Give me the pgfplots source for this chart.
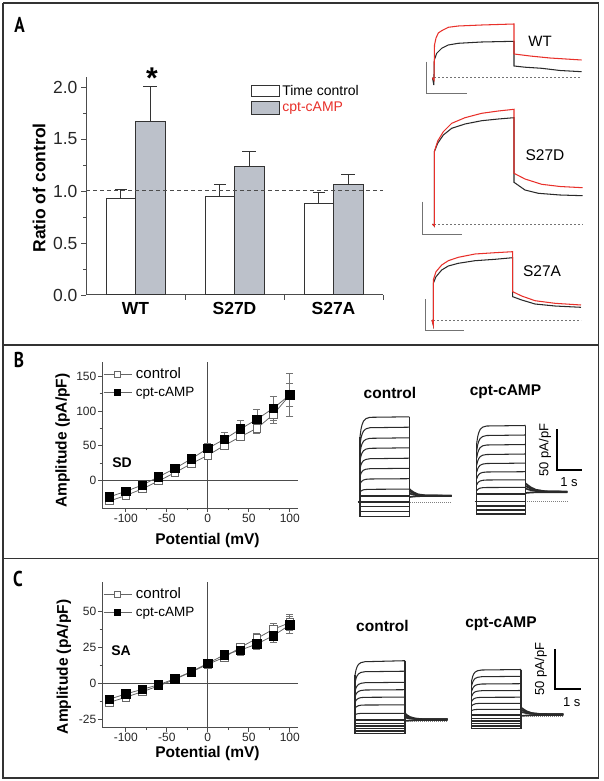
\documentclass[border=0pt]{standalone}
\usepackage{graphicx}
\usepackage{pgfplots}
\pgfplotsset{compat=1.18}
\usepackage{pgfplotstable}
\usepackage{fontspec}
\setmainfont{Liberation Sans}
\newfontfamily\letterfont{PT Sans}
\definecolor{frame}{HTML}{333333}
\definecolor{barfill}{HTML}{BCC1CA}
\definecolor{tr}{HTML}{2A2A2A}
\definecolor{trred}{HTML}{E8302A}
\definecolor{ln}{HTML}{666666}
\newcommand{\fs}[1]{\fontsize{#1}{#1}\selectfont}

% ---------- current families (pixel coordinates) ----------
\pgfplotstableread{
x      t1    t2    t3    t4    t5    t6    t7    t8    t9  t10 t11   t12   t13
360    436.8 444.8 453.0 460.7 468.7 476.4 484.3 492.2 496 502 506.7 511.7 516.7
361    429.2 438.1 447.2 455.8 464.8 473.4 482.2 491.1 496 502 506.7 511.7 516.7
362    424.9 434.4 444.0 453.1 462.6 471.7 481.1 490.4 496 502 506.7 511.7 516.7
363.5  421.1 431.0 441.2 450.7 460.6 470.2 480.0 489.8 496 502 506.7 511.7 516.7
366    418.6 428.8 439.3 449.1 459.4 469.2 479.3 489.5 496 502 506.7 511.7 516.7
370    417.3 427.7 438.3 448.3 458.7 468.7 479.0 489.3 496 502 506.7 511.7 516.7
409.3  416.8 427.2 437.8 447.8 458.2 468.3 478.7 489.1 496 502 506.7 511.7 516.7
}\BctlTab
\pgfplotstableread{
x     a     b     c     d
409.3 489.0 491.0 493.5 497.0
411   490.5 492.0 494.0 496.8
414   492.5 493.5 494.7 496.5
418   494.3 494.8 495.3 496.2
425   495.4 495.5 495.6 496.0
451.7 495.7 495.7 495.7 496.0
}\BctlTail
\pgfplotstableread{
x      t1    t2    t3    t4    t5    t6    t7    t8    t9  t10   t11 t12 t13
476.7  443.4 450.7 458.0 465.3 472.2 478.8 485.0 490.7 494 501.5 506 510 514
477.7  436.6 444.7 452.9 461.1 468.8 476.1 483.0 489.5 494 501.5 506 510 514
478.7  432.8 441.4 450.1 458.7 466.9 474.7 481.9 488.8 494 501.5 506 510 514
480.2  429.4 438.5 447.5 456.6 465.2 473.3 481.0 488.1 494 501.5 506 510 514
482.7  427.1 436.5 445.8 455.2 464.1 472.4 480.3 487.7 494 501.5 506 510 514
486.7  426.0 435.5 445.0 454.5 463.5 472.0 480.0 487.5 494 501.5 506 510 514
525.7  425.5 435.0 444.5 454.0 463.1 471.7 479.8 487.4 494 501.5 506 510 514
}\BcptTab
\pgfplotstableread{
x     a     b     c     d
525.7 483.5 486.0 488.5 493.0
527.5 485.0 487.0 489.2 492.8
531   487.5 488.7 490.2 492.5
536   489.8 490.3 491.0 492.3
545   491.3 491.4 491.6 492.2
567.3 491.7 491.7 491.7 492.2
}\BcptTail
\pgfplotstableread{
x      t1    t2    t3    t4    t5    t6    t7    t8  t9    t10 t11   t12 t13
355    675.1 682.8 691.3 696.9 702.5 708.5 714.8 720 723.3 726 728.3 731 733.3
356    669.9 678.5 687.9 694.2 700.5 707.1 714.2 720 723.3 726 728.3 731 733.3
357    666.9 676.0 686.1 692.7 699.3 706.4 713.9 720 723.3 726 728.3 731 733.3
358.5  664.3 673.9 684.4 691.4 698.3 705.7 713.6 720 723.3 726 728.3 731 733.3
361    662.6 672.4 683.3 690.5 697.6 705.2 713.4 720 723.3 726 728.3 731 733.3
365    661.7 671.7 682.7 690.0 697.3 705.0 713.3 720 723.3 726 728.3 731 733.3
405    660.7 671.2 682.3 689.7 697.1 704.9 713.3 720 723.3 726 728.3 731 733.3
}\CctlTab
\pgfplotstableread{
x     a     b     c     d
405   713.5 715.5 717.5 721.0
406.8 715.0 716.3 717.9 720.8
410   717.0 717.6 718.5 720.5
415   718.5 718.7 719.0 720.2
423   719.2 719.2 719.3 720.0
447.7 719.3 719.3 719.3 720.0
}\CctlTail
\pgfplotstableread{
x      t1    t2    t3    t4    t5    t6    t7    t8  t9    t10 t11   t12 t13
471.7  680.4 685.5 691.1 696.3 701.4 706.0 710.6 715 718.3 721 723.3 726 728.3
472.7  676.3 682.1 688.3 694.1 699.8 704.9 710.1 715 718.3 721 723.3 726 728.3
473.7  674.0 680.1 686.8 692.9 698.9 704.4 709.8 715 718.3 721 723.3 726 728.3
475.2  672.0 678.4 685.4 691.8 698.1 703.8 709.6 715 718.3 721 723.3 726 728.3
477.7  670.7 677.3 684.5 691.1 697.6 703.5 709.4 715 718.3 721 723.3 726 728.3
481.7  670.0 676.7 684.0 690.7 697.3 703.3 709.3 715 718.3 721 723.3 726 728.3
521    669.5 676.3 683.7 690.5 697.2 703.3 709.3 715 718.3 721 723.3 726 728.3
}\CcptTab
\pgfplotstableread{
x     a     b     c     d
521   707.5 709.8 712.0 716.0
523   709.0 710.7 712.4 715.8
526.5 711.2 712.0 713.1 715.5
531.5 713.0 713.4 713.8 715.2
540   714.0 714.1 714.2 715.0
563.3 714.3 714.3 714.3 715.0
}\CcptTail

\pgfplotsset{
  ivaxis/.style={
    scale only axis, anchor=south west,
    width=196pt, xmin=-129, xmax=110,
    axis x line*=bottom, axis y line*=left,
    xtick={-100,-50,0,50,100}, minor x tick num=1, minor y tick num=1,
    tick align=outside, major tick length=4pt, minor tick length=2.5pt,
    tick style={color=black!70, line width=0.7pt},
    axis line style={black!70, line width=0.8pt},
    tick label style={font=\fs{12}, color=black!85, inner sep=1.5pt},
    /pgf/number format/assume math mode=true,
    label style={font=\fs{15.5}\bfseries, inner sep=0pt},
    legend cell align=left,
    legend style={draw=none, fill=none, inner sep=0pt, nodes={inner sep=1pt}, row sep=5pt,
      /tikz/every odd column/.append style={column sep=3pt}},
    legend image code/.code={\draw[mark repeat=2,mark phase=2,#1] plot coordinates {(0pt,0pt)(14pt,0pt)(28pt,0pt)};},
    every legend image post/.style={mark size=3pt},
  },
  ctl/.style={color=ln, line width=0.8pt, mark=square*, mark size=3.8pt,
    mark options={fill=white, draw=black!60, line width=0.8pt},
    error bars/.cd, y dir=both, y explicit,
    error bar style={color=black!55, line width=0.7pt},
    error mark options={rotate=90, mark size=3.5pt, line width=0.7pt, color=black!55}},
  cpt/.style={color=ln, line width=0.8pt, mark=square*, mark size=4.2pt,
    mark options={fill=black, draw=black, line width=0.6pt},
    error bars/.cd, y dir=both, y explicit,
    error bar style={color=black!55, line width=0.7pt},
    error mark options={rotate=90, mark size=3.5pt, line width=0.7pt, color=black!55}},
  trace/.style={color=tr, line width=1.05pt},
  tail/.style={color=tr, line width=1.7pt},
}

\begin{document}
\begin{tikzpicture}
\useasboundingbox (0,0) rectangle (604pt,781pt);

% ================= Panel A bar chart =================
\begin{axis}[
  at={(86pt,486pt)}, anchor=south west, scale only axis,
  width=297pt, height=218.4pt,
  xmin=-0.5, xmax=2.5, ymin=0, ymax=2.1,
  axis x line*=bottom, axis y line*=left,
  ybar=0pt, bar width=29.5pt,
  xtick={0.5,1.5,2.5}, xticklabels={},
  extra x ticks={0,1,2}, extra x tick labels={WT,S27D,S27A},
  extra x tick style={major tick length=0pt, tick label style={font=\fs{17.5}\bfseries, yshift=-4pt}},
  ytick={0,0.5,1,1.5,2}, minor ytick={0.25,0.75,1.25,1.75},
  yticklabel style={/pgf/number format/fixed, /pgf/number format/fixed zerofill, /pgf/number format/precision=1, font=\fs{17.5}, color=black!85},
  /pgf/number format/assume math mode=true,
  tick align=outside, major tick length=5pt, minor tick length=3pt,
  tick style={color=black!70, line width=0.8pt},
  axis line style={black!70, line width=1pt},
  ylabel={Ratio of control},
  ylabel style={font=\fs{17.5}\bfseries, at={(axis description cs:-0.158,0.49)}, anchor=center},
  legend style={at={(0.556,0.97)}, anchor=north west, draw=none, fill=none, font=\fs{14}, inner sep=0pt, row sep=1pt},
  legend cell align=left,
  clip=false,
]
\addplot[fill=white, draw=frame, line width=1pt,
  legend image code/.code={\draw[fill=white, draw=frame, line width=1pt] (0pt,-5.5pt) rectangle (28pt,5.5pt);},
  error bars/.cd, y dir=plus, y explicit,
  error bar style={color=frame, line width=1pt},
  error mark options={rotate=90, mark size=6pt, line width=1pt, color=frame}]
  coordinates {(0,0.925) +- (0,0.085) (1,0.945) +- (0,0.115) (2,0.88) +- (0,0.11)};
\addlegendentry{Time control}
\addplot[fill=barfill, draw=frame, line width=1pt,
  legend image code/.code={\draw[fill=barfill, draw=frame, line width=1pt] (0pt,-6.5pt) rectangle (28pt,6.5pt);},
  error bars/.cd, y dir=plus, y explicit,
  error bar style={color=frame, line width=1pt},
  error mark options={rotate=90, mark size=7pt, line width=1pt, color=frame}]
  coordinates {(0,1.665) +- (0,0.335) (1,1.24) +- (0,0.14) (2,1.06) +- (0,0.10)};
\addlegendentry{\textcolor{trred}{cpt-cAMP}}
\addplot[sharp plot, forget plot, color=black!70, line width=1pt, dash pattern=on 4pt off 3pt] coordinates {(-0.5,1) (2.5,1)};
\end{axis}

% ================= Panel B IV =================
\begin{axis}[ivaxis,
  at={(102pt,273pt)}, height=146.3pt, ymin=-40, ymax=171,
  ytick={0,50,100,150},
  xlabel={Potential (mV)}, ylabel={Amplitude (pA/pF)},
  xlabel style={at={(axis description cs:0.538,-0.222)}, anchor=center},
  ylabel style={at={(axis description cs:-0.2015,0.46)}, anchor=center},
  legend style={at={(0.005,0.965)}, anchor=north west},
]
\addplot[forget plot, color=black!70, line width=0.8pt] coordinates {(0,-40) (0,171)};
\addplot[forget plot, color=black!70, line width=0.8pt] coordinates {(-129,0) (110,0)};
\addplot[ctl] coordinates {(-120,-30) +- (0,5) (-100,-22) +- (0,3) (-80,-12.5) +- (0,3) (-60,-1) +- (0,3) (-40,11) +- (0,3) (-20,24) +- (0,4) (0,36) +- (0,5) (20,50) +- (0,6) (40,63) +- (0,6) (60,75) +- (0,8) (80,95) +- (0,13) (100,123) +- (0,17)};
\addlegendentry{\fs{15}control}
\addplot[cpt] coordinates {(-120,-24) +- (0,4) (-100,-16) +- (0,3) (-80,-7) +- (0,3) (-60,5) +- (0,3) (-40,17) +- (0,3) (-20,31) +- (0,4) (0,46) +- (0,7) (20,59) +- (0,10) (40,74) +- (0,12) (60,88) +- (0,14) (80,104) +- (0,17) (100,123) +- (0,31)};
\addlegendentry{\fs{13.5}cpt-cAMP}
\end{axis}

% ================= Panel C IV =================
\begin{axis}[ivaxis,
  at={(102pt,53.3pt)}, height=146pt, ymin=-30.8, ymax=70.5,
  ytick={-25,0,25,50},
  xlabel={Potential (mV)}, ylabel={Amplitude (pA/pF)},
  xlabel style={at={(axis description cs:0.538,-0.18)}, anchor=center},
  ylabel style={at={(axis description cs:-0.194,0.416)}, anchor=center},
  legend style={at={(0.005,0.965)}, anchor=north west},
]
\addplot[forget plot, color=black!70, line width=0.8pt] coordinates {(0,-30.8) (0,70.5)};
\addplot[forget plot, color=black!70, line width=0.8pt] coordinates {(-129,0) (110,0)};
\addplot[ctl] coordinates {(-120,-13.2) +- (0,2) (-100,-9.7) +- (0,2) (-80,-5.8) +- (0,2) (-60,-1.9) +- (0,1.5) (-40,2.8) +- (0,1.5) (-20,7.9) +- (0,1.5) (0,13.2) +- (0,2) (20,18) +- (0,2.5) (40,25) +- (0,3) (60,31.2) +- (0,3.5) (80,37.5) +- (0,4) (100,42.1) +- (0,5.5)};
\addlegendentry{\fs{15}control}
\addplot[cpt] coordinates {(-120,-11) +- (0,2) (-100,-7.4) +- (0,2) (-80,-4.2) +- (0,1.5) (-60,-1) +- (0,1.5) (-40,3.2) +- (0,1.5) (-20,8.1) +- (0,1.5) (0,13.9) +- (0,2) (20,19.7) +- (0,2.5) (40,23.1) +- (0,3.5) (60,27.3) +- (0,4) (80,33.1) +- (0,5) (100,40.5) +- (0,6)};
\addlegendentry{\fs{13.5}cpt-cAMP}
\end{axis}

% ================= overlay: traces, frame, labels =================
\begin{axis}[at={(0pt,0pt)}, anchor=south west, scale only axis,
  width=604pt, height=781pt, xmin=0, xmax=604, ymin=0, ymax=781,
  y dir=reverse, hide axis, clip=false, no markers]
% frame and separators
\addplot[frame, line width=1.6pt] coordinates {(3,3) (598.5,3) (598.5,778) (3,778) (3,3)};
\addplot[frame, line width=1.6pt] coordinates {(3,345) (598.5,345)};
\addplot[frame, line width=1.6pt] coordinates {(3,558.3) (598.5,558.3)};

% ---- panel A traces ----
% WT
\addplot[black!55, line width=0.7pt, dash pattern=on 2pt off 2pt] coordinates {(434,77.7) (581.7,77.7)};
\addplot[black!55, line width=0.8pt] coordinates {(426.7,61.7) (426.7,93.3) (466.7,93.3)};
\addplot[trace] coordinates {(432.5,77.7) (433.8,85) (434.3,60) (436.7,53.3) (441.7,48.3) (448.3,45) (458.3,43.3) (481.7,42) (514,41.3) (514,66) (525,67.2) (541.7,68.3) (560,70.5) (581.7,71.7)};
\addplot[trace, color=trred] coordinates {(432.5,77.7) (434,80) (434.5,45) (436,38) (438.3,33) (441.7,30.7) (448.3,27.3) (458.3,26) (481.7,25) (514,24) (514,54) (530,56) (550,58) (581.7,60)};
% S27D
\addplot[black!55, line width=0.7pt, dash pattern=on 2pt off 2pt] coordinates {(434,224.3) (582.7,224.3)};
\addplot[black!55, line width=0.8pt] coordinates {(422.5,201.7) (422.5,234) (462,234)};
\addplot[trace] coordinates {(432.5,224) (434.3,226) (434.3,151.7) (437.7,143.3) (443.3,135) (451.7,128.3) (465,124) (481.7,120.7) (498.3,119) (514,117.7) (514,182.3) (525,190) (538.3,193.3) (560,195) (582.7,195.7)};
\addplot[trace, color=trred] coordinates {(432.5,224) (434.3,226) (434.3,151.7) (437.7,141) (443.3,131.7) (451.7,123.3) (465,117.7) (481.7,113.3) (498.3,111) (514,109.3) (514,173.3) (525,179) (541.7,184.3) (560,186.5) (582.7,187.7)};
% S27A
\addplot[black!55, line width=0.7pt, dash pattern=on 2pt off 2pt] coordinates {(433,320) (581,320)};
\addplot[black!55, line width=0.8pt] coordinates {(425,299.3) (425,330) (464.3,330)};
\addplot[trace] coordinates {(432,320) (433.3,325) (433.3,283.3) (436,276.7) (441.7,270) (448.3,266) (458.3,263.3) (475,260.7) (495,259.3) (512.7,257.7) (512.7,296.7) (521.7,300) (535,304) (555,306) (581,307.3)};
\addplot[trace, color=trred] coordinates {(432,320) (433.3,325) (433.3,280) (436,271.7) (441.7,265) (448.3,260.7) (458.3,257.3) (475,254) (495,252.7) (512.7,251.7) (512.7,291.7) (521.7,296) (535,300.7) (555,303.3) (581,305)};

% ---- panel B families ----
\pgfplotsinvokeforeach{1,...,13}{\addplot[trace] table[x=x,y=t#1]{\BctlTab};}
\pgfplotsinvokeforeach{a,b,c,d}{\addplot[tail] table[x=x,y=#1]{\BctlTail};}
\addplot[trace] coordinates {(360,436.8) (360,517.2)};
\addplot[trace] coordinates {(409.3,416.8) (409.3,517.2)};
\addplot[trace] coordinates {(357.5,502) (360,502)};
\addplot[black!50, line width=0.6pt, dash pattern=on 1pt off 1pt] coordinates {(410,502.5) (451.7,502.5)};
\pgfplotsinvokeforeach{1,...,13}{\addplot[trace] table[x=x,y=t#1]{\BcptTab};}
\pgfplotsinvokeforeach{a,b,c,d}{\addplot[tail] table[x=x,y=#1]{\BcptTail};}
\addplot[trace] coordinates {(476.7,443.4) (476.7,514.5)};
\addplot[trace] coordinates {(525.7,425.5) (525.7,514.5)};
\addplot[trace] coordinates {(474.5,501.5) (476.7,501.5)};
\addplot[black!50, line width=0.6pt, dash pattern=on 1pt off 1pt] coordinates {(527,501.5) (567.3,501.5)};
\addplot[black, line width=2pt] coordinates {(556.7,429.3) (556.7,470) (582,470)};

% ---- panel C families ----
\pgfplotsinvokeforeach{1,...,13}{\addplot[trace] table[x=x,y=t#1]{\CctlTab};}
\pgfplotsinvokeforeach{a,b,c,d}{\addplot[tail] table[x=x,y=#1]{\CctlTail};}
\addplot[trace] coordinates {(355,675.1) (355,734)};
\addplot[trace] coordinates {(405,660.7) (405,734)};
\addplot[black!50, line width=0.6pt, dash pattern=on 1pt off 1pt] coordinates {(406,721.6) (447.7,721.6)};
\pgfplotsinvokeforeach{1,...,13}{\addplot[trace] table[x=x,y=t#1]{\CcptTab};}
\pgfplotsinvokeforeach{a,b,c,d}{\addplot[tail] table[x=x,y=#1]{\CcptTail};}
\addplot[trace] coordinates {(471.7,680.4) (471.7,729)};
\addplot[trace] coordinates {(521,669.5) (521,729)};
\addplot[black!50, line width=0.6pt, dash pattern=on 1pt off 1pt] coordinates {(522,716.6) (563.3,716.6)};
\addplot[black, line width=2pt] coordinates {(555,649) (555,689) (581,689)};

% ---- labels ----
\node[font=\fs{21.5}\letterfont\bfseries] at (axis cs:19.5,24.5) {\scalebox{0.8}[1]{A}};
\node[font=\fs{21.5}\letterfont\bfseries] at (axis cs:19,359.5) {\scalebox{0.8}[1]{B}};
\node[font=\fs{21.5}\letterfont\bfseries] at (axis cs:18,578.5) {\scalebox{0.8}[1]{C}};
\node[font=\fs{30}\bfseries, anchor=base, inner sep=0pt] at (axis cs:152,89) {*};
\node[font=\fs{15}] at (axis cs:540,41) {WT};
\node[font=\fs{15.5}] at (axis cs:545,155) {S27D};
\node[font=\fs{15.5}] at (axis cs:542,271) {S27A};
\node[font=\fs{14}\bfseries] at (axis cs:122,463) {SD};
\node[font=\fs{14}\bfseries] at (axis cs:121,651) {SA};
\node[font=\fs{15.5}\bfseries] at (axis cs:390,393) {control};
\node[font=\fs{15.5}\bfseries] at (axis cs:505.5,392) {cpt-cAMP};
\node[font=\fs{15.5}\bfseries] at (axis cs:382.5,626) {control};
\node[font=\fs{15.5}\bfseries] at (axis cs:501,624) {cpt-cAMP};
\node[font=\fs{13}, rotate=90] at (axis cs:545,450) {50 pA/pF};
\node[font=\fs{13}] at (axis cs:569,481.7) {1 s};
\node[font=\fs{13}, rotate=90] at (axis cs:540.7,669) {50 pA/pF};
\node[font=\fs{13}] at (axis cs:571.7,701.7) {1 s};
\end{axis}
\end{tikzpicture}
\end{document}
